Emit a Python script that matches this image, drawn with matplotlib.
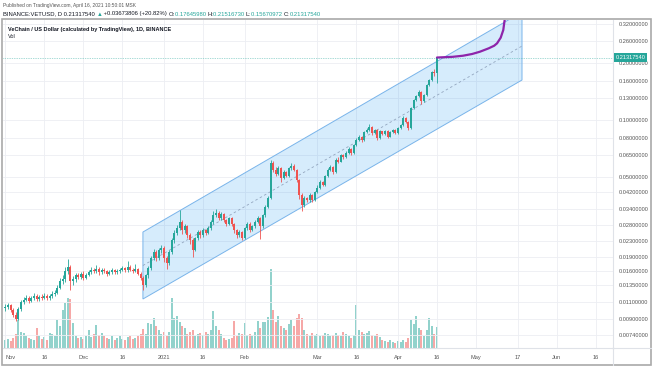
import matplotlib
matplotlib.use('Agg')
import matplotlib.pyplot as plt
import matplotlib.transforms as mtransforms
from matplotlib.patches import Polygon, Rectangle
from matplotlib.lines import Line2D
from matplotlib.ticker import NullLocator
import numpy as np

plt.rcParams['font.family'] = ['Liberation Sans', 'DejaVu Sans']

# ---------------- data (daily VET/USD, day 0 = 2020-11-01) ----------------
first_open = 0.0102
closes = [
    0.0104, 0.0106, 0.0100, 0.0094, 0.0090, 0.0101, 0.0110, 0.0113, 0.0116, 0.0112,
    0.0115, 0.0118, 0.0114, 0.0117, 0.0116, 0.0119, 0.0115, 0.0118, 0.0121, 0.0123,
    0.0131, 0.0142, 0.0145, 0.0160, 0.0168, 0.0142, 0.0145, 0.0152, 0.0149, 0.0155,
    0.0148, 0.0153, 0.0158, 0.0162, 0.0160, 0.0165, 0.0158, 0.0163, 0.0160, 0.0155,
    0.0158, 0.0162, 0.0158, 0.0160, 0.0163, 0.0166, 0.0162, 0.0168, 0.0163, 0.0160,
    0.0165, 0.0155, 0.0148, 0.0135, 0.0152, 0.0166, 0.0188, 0.0202, 0.0188, 0.0207,
    0.0212, 0.0188, 0.0176, 0.0202, 0.0233, 0.0255, 0.0269, 0.0290, 0.0263, 0.0275,
    0.0249, 0.0233, 0.0207, 0.0238, 0.0257, 0.0247, 0.0263, 0.0255, 0.0269, 0.0290,
    0.0315, 0.0325, 0.0304, 0.0321, 0.0297, 0.0285, 0.0304, 0.0282, 0.0263, 0.0247,
    0.0257, 0.0238, 0.0269, 0.0285, 0.0263, 0.0275, 0.0290, 0.0304, 0.0275, 0.0315,
    0.0349, 0.0390, 0.0590, 0.0545, 0.0520, 0.0557, 0.0494, 0.0532, 0.0507, 0.0557,
    0.0575, 0.0545, 0.0483, 0.0403, 0.0358, 0.0389, 0.0379, 0.0403, 0.0379, 0.0418,
    0.0440, 0.0471, 0.0456, 0.0505, 0.0545, 0.0566, 0.0532, 0.0616, 0.0604, 0.0653,
    0.0635, 0.0673, 0.0700, 0.0668, 0.0739, 0.0784, 0.0815, 0.0784, 0.0860, 0.0886,
    0.0920, 0.0850, 0.0886, 0.0800, 0.0870, 0.0842, 0.0876, 0.0815, 0.0860, 0.0886,
    0.0850, 0.0905, 0.0942, 0.1025, 0.0975, 0.0905, 0.1150, 0.1274, 0.1335, 0.1404,
    0.1260, 0.1350, 0.1530, 0.1623, 0.1790, 0.17645980, 0.21317540]
highs = [
    0.0108, 0.0109, 0.0108, 0.0102, 0.0097, 0.0103, 0.0113, 0.0117, 0.0120, 0.0119,
    0.0118, 0.0122, 0.0121, 0.0120, 0.0121, 0.0123, 0.0121, 0.0121, 0.0125, 0.0128,
    0.0135, 0.0147, 0.0152, 0.0168, 0.0186, 0.0172, 0.0151, 0.0157, 0.0156, 0.0159,
    0.0161, 0.0157, 0.0163, 0.0168, 0.0166, 0.0172, 0.0168, 0.0167, 0.0166, 0.0163,
    0.0162, 0.0166, 0.0165, 0.0164, 0.0167, 0.0171, 0.0169, 0.0180, 0.0172, 0.0166,
    0.0175, 0.0167, 0.0158, 0.0151, 0.0155, 0.0170, 0.0192, 0.0210, 0.0206, 0.0212,
    0.0220, 0.0216, 0.0193, 0.0207, 0.0240, 0.0262, 0.0280, 0.0335, 0.0298, 0.0284,
    0.0280, 0.0254, 0.0238, 0.0243, 0.0265, 0.0263, 0.0270, 0.0268, 0.0276, 0.0298,
    0.0332, 0.0340, 0.0330, 0.0328, 0.0325, 0.0302, 0.0310, 0.0308, 0.0287, 0.0268,
    0.0262, 0.0261, 0.0273, 0.0292, 0.0289, 0.0280, 0.0296, 0.0312, 0.0308, 0.0320,
    0.0356, 0.0400, 0.0618, 0.0605, 0.0562, 0.0570, 0.0565, 0.0545, 0.0540, 0.0566,
    0.0590, 0.0583, 0.0552, 0.0490, 0.0412, 0.0398, 0.0395, 0.0412, 0.0408, 0.0425,
    0.0452, 0.0482, 0.0478, 0.0515, 0.0556, 0.0580, 0.0572, 0.0630, 0.0635, 0.0665,
    0.0662, 0.0685, 0.0718, 0.0708, 0.0750, 0.0805, 0.0832, 0.0822, 0.0875, 0.0905,
    0.0955, 0.0928, 0.0898, 0.0892, 0.0882, 0.0878, 0.0888, 0.0882, 0.0870, 0.0895,
    0.0892, 0.0915, 0.0955, 0.1045, 0.1032, 0.0985, 0.1165, 0.1295, 0.1360, 0.1440,
    0.1415, 0.1370, 0.1552, 0.1650, 0.1820, 0.1850, 0.21516730]
lows = [
    0.0099, 0.0101, 0.0098, 0.0092, 0.0087, 0.0089, 0.0099, 0.0107, 0.0111, 0.0109,
    0.0110, 0.0113, 0.0112, 0.0112, 0.0113, 0.0114, 0.0113, 0.0113, 0.0116, 0.0118,
    0.0121, 0.0129, 0.0137, 0.0141, 0.0155, 0.0128, 0.0136, 0.0141, 0.0145, 0.0146,
    0.0144, 0.0145, 0.0150, 0.0155, 0.0156, 0.0157, 0.0153, 0.0155, 0.0156, 0.0151,
    0.0152, 0.0155, 0.0154, 0.0155, 0.0157, 0.0160, 0.0158, 0.0159, 0.0160, 0.0156,
    0.0158, 0.0152, 0.0144, 0.0127, 0.0132, 0.0148, 0.0162, 0.0182, 0.0180, 0.0184,
    0.0200, 0.0178, 0.0165, 0.0172, 0.0198, 0.0226, 0.0248, 0.0262, 0.0250, 0.0255,
    0.0240, 0.0222, 0.0190, 0.0203, 0.0232, 0.0240, 0.0243, 0.0249, 0.0251, 0.0265,
    0.0285, 0.0308, 0.0296, 0.0298, 0.0290, 0.0278, 0.0281, 0.0276, 0.0255, 0.0240,
    0.0243, 0.0233, 0.0235, 0.0264, 0.0258, 0.0259, 0.0271, 0.0286, 0.0236, 0.0271,
    0.0310, 0.0343, 0.0385, 0.0530, 0.0505, 0.0512, 0.0470, 0.0488, 0.0498, 0.0502,
    0.0548, 0.0537, 0.0470, 0.0385, 0.0333, 0.0350, 0.0368, 0.0372, 0.0370, 0.0375,
    0.0412, 0.0435, 0.0448, 0.0450, 0.0498, 0.0538, 0.0522, 0.0528, 0.0590, 0.0598,
    0.0622, 0.0628, 0.0665, 0.0655, 0.0662, 0.0730, 0.0775, 0.0770, 0.0778, 0.0850,
    0.0878, 0.0835, 0.0842, 0.0785, 0.0792, 0.0830, 0.0835, 0.0805, 0.0810, 0.0852,
    0.0842, 0.0845, 0.0898, 0.0935, 0.0960, 0.0890, 0.0898, 0.1140, 0.1260, 0.1320,
    0.1220, 0.1245, 0.1340, 0.1510, 0.1605, 0.1700, 0.15670972]
volume = [
    8, 9, 7, 10, 14, 28, 16, 15, 12, 10,
    9, 8, 20, 12, 9, 11, 8, 15, 14, 12,
    28, 22, 38, 45, 50, 49, 25, 12, 10, 11,
    9, 12, 18, 11, 14, 23, 13, 15, 12, 10,
    9, 12, 8, 10, 12, 9, 8, 11, 12, 9,
    10, 12, 14, 19, 14, 25, 24, 30, 22, 18,
    14, 16, 12, 16, 50, 30, 32, 26, 22, 20,
    14, 16, 18, 12, 14, 15, 13, 16, 14, 18,
    37, 22, 18, 14, 10, 8, 9, 10, 27, 12,
    15, 14, 25, 13, 14, 12, 16, 27, 20, 26,
    26, 31, 79, 38, 26, 32, 22, 20, 18, 24,
    28, 22, 30, 34, 30, 18, 14, 12, 15, 13,
    14, 12, 13, 15, 14, 12, 13, 15, 13, 12,
    16, 14, 12, 10, 13, 43, 18, 16, 14, 15,
    17, 13, 12, 14, 11, 8, 7, 6, 8, 6,
    5, 7, 6, 8, 6, 10, 28, 24, 32, 20,
    18, 12, 18, 30, 22, 14, 21]

tick_days = [0, 15, 30, 45, 61, 76, 92, 120, 135, 151, 166, 181, 197, 212, 227]
tick_labels = ['Nov', '16', 'Dec', '16', '2021', '16', 'Feb', 'Mar', '16', 'Apr',
               '16', 'May', '17', 'Jun', '16']
price_ticks = [0.0074, 0.009, 0.011, 0.0135, 0.016, 0.019, 0.023, 0.028, 0.034,
               0.042, 0.05, 0.065, 0.08, 0.10, 0.13, 0.16, 0.20, 0.26, 0.32]

channel_days = [52.9, 198.7]
channel_upper = [0.0257, 0.370]
channel_lower = [0.01141, 0.1623]

arc_days = [166, 172, 176, 179.5, 182.5, 185.9, 188.0, 189.1, 190.5, 191.5, 191.9, 192.1]
arc_prices = [0.21317540, 0.2150, 0.2179, 0.2225, 0.2287, 0.2384, 0.2460, 0.2532,
              0.2711, 0.2976, 0.3267, 0.3400]

last_price = 0.21317540
header1 = 'Published on TradingView.com, April 16, 2021 10:50:01 MSK'
title = 'VeChain / US Dollar (calculated by TradingView), 1D, BINANCE'

# ---------------- layout ----------------
W, H = 654, 366
def fx(px): return px / W
def fy(py): return 1 - py / H

UP, DOWN = '#26a69a', '#ef5350'

fig = plt.figure(figsize=(W / 100, H / 100), dpi=100, facecolor='white')
ax = fig.add_axes([fx(3), fy(348), fx(613) - fx(3), fy(20) - fy(348)])
axv = ax.twinx()
ax.set_zorder(axv.get_zorder() + 1)
ax.patch.set_visible(False)

days = np.arange(len(closes))
c = np.array(closes)
o = np.array([first_open] + closes[:-1])
hi = np.array(highs)
lo = np.array(lows)
up = c >= o
cols = np.where(up, UP, DOWN)

# volume
vcols = [(0.149, 0.651, 0.604, 0.5) if u else (0.937, 0.325, 0.314, 0.5) for u in up]
axv.bar(days, volume, width=0.72, color=vcols, linewidth=0)
axv.set_ylim(0, 328)
axv.set_yticks([])
for s in axv.spines.values():
    s.set_visible(False)

ax.set_yscale('log')
ax.set_ylim(0.0063, 0.336)
ax.set_xlim(-0.92, 233.7)

# channel
mid = [np.sqrt(u * l) for u, l in zip(channel_upper, channel_lower)]
poly = Polygon([(channel_days[0], channel_upper[0]), (channel_days[1], channel_upper[1]),
                (channel_days[1], channel_lower[1]), (channel_days[0], channel_lower[0])],
               closed=True, facecolor=(0.129, 0.588, 0.953, 0.18), edgecolor='#79b4ea',
               linewidth=0.7, zorder=2)
ax.add_patch(poly)
ax.plot(channel_days, mid, color='#93a6bf', lw=0.6, ls=(0, (3, 3)), zorder=2.5)

# price line
ax.axhline(last_price, color=UP, lw=0.5, ls=(0, (1, 1.5)), alpha=0.8, zorder=2.6)

# candles
ax.vlines(days, lo, hi, colors=cols, lw=0.6, zorder=3)
body_bot = np.minimum(o, c)
body_h = np.maximum(np.abs(c - o), body_bot * 0.004)
ax.bar(days, body_h, bottom=body_bot, width=0.72, color=cols, linewidth=0, zorder=4)

# brush arc
ax.plot(arc_days, arc_prices, color='#8e24aa', lw=1.6, solid_capstyle='round', zorder=5)

# axes styling
ax.yaxis.tick_right()
ax.set_yticks(price_ticks)
ax.set_yticklabels(['%.8f' % p for p in price_ticks])
ax.yaxis.set_minor_locator(NullLocator())
ax.set_xticks(tick_days)
ax.set_xticklabels(tick_labels)
ax.get_xticklabels()[0].set_horizontalalignment('left')
ax.tick_params(axis='y', which='both', length=0, pad=4, labelsize=4.1, labelcolor='#555555')
ax.tick_params(axis='x', length=0, pad=5, labelsize=4.1, labelcolor='#555555')
ax.grid(True, color='#eceef3', lw=0.6)
ax.set_axisbelow(True)
for k in ['top', 'left']:
    ax.spines[k].set_visible(False)
for k in ['right', 'bottom']:
    ax.spines[k].set_color('#dfe2e8')
    ax.spines[k].set_linewidth(0.8)

# last price label
trans = mtransforms.blended_transform_factory(ax.transAxes, ax.transData)
ax.text(1.004, last_price, '%.8f' % last_price, transform=trans, ha='left', va='center',
        fontsize=4.1, color='white', clip_on=False, zorder=10,
        bbox=dict(boxstyle='square,pad=0.3', fc=UP, ec='none'))

# frame + separators
fig.patches.append(Rectangle((fx(2), fy(365)), fx(651) - fx(2), fy(19) - fy(365),
                             transform=fig.transFigure, fill=False, ec='#a9a9a9', lw=1.2))
fig.lines.append(Line2D([fx(613), fx(651)], [fy(348), fy(348)], transform=fig.transFigure,
                        color='#dfe2e8', lw=0.8))
fig.lines.append(Line2D([fx(613), fx(613)], [fy(348), fy(365)], transform=fig.transFigure,
                        color='#dfe2e8', lw=0.8))

# header texts
fig.text(fx(3), fy(5), header1, fontsize=3.5, color='#555555', va='center', ha='left')
renderer = fig.canvas.get_renderer()
pieces = [('BINANCE:VETUSD, D 0.21317540 ', '#131722'), ('\u25B2', UP),
          (' +0.03673806 (+20.82%) ', '#131722'),
          ('O:', '#131722'), ('0.17645980 ', UP), ('H:', '#131722'), ('0.21516730 ', UP),
          ('L:', '#131722'), ('0.15670972 ', UP), ('C:', '#131722'), ('0.21317540', UP)]
x = 3.0
for s, col in pieces:
    t = fig.text(fx(x), fy(14), s, fontsize=4.2, color=col, va='center', ha='left',
                 family=['Liberation Sans', 'DejaVu Sans'])
    bb = t.get_window_extent(renderer)
    x += bb.width

fig.text(fx(8), fy(29), title, fontsize=4.0, weight='bold', color='#131722', va='center', ha='left')
fig.text(fx(8), fy(37), 'Vol', fontsize=4.0, color='#131722', va='center', ha='left')

fig.savefig('out.png', dpi=100, facecolor='white')
